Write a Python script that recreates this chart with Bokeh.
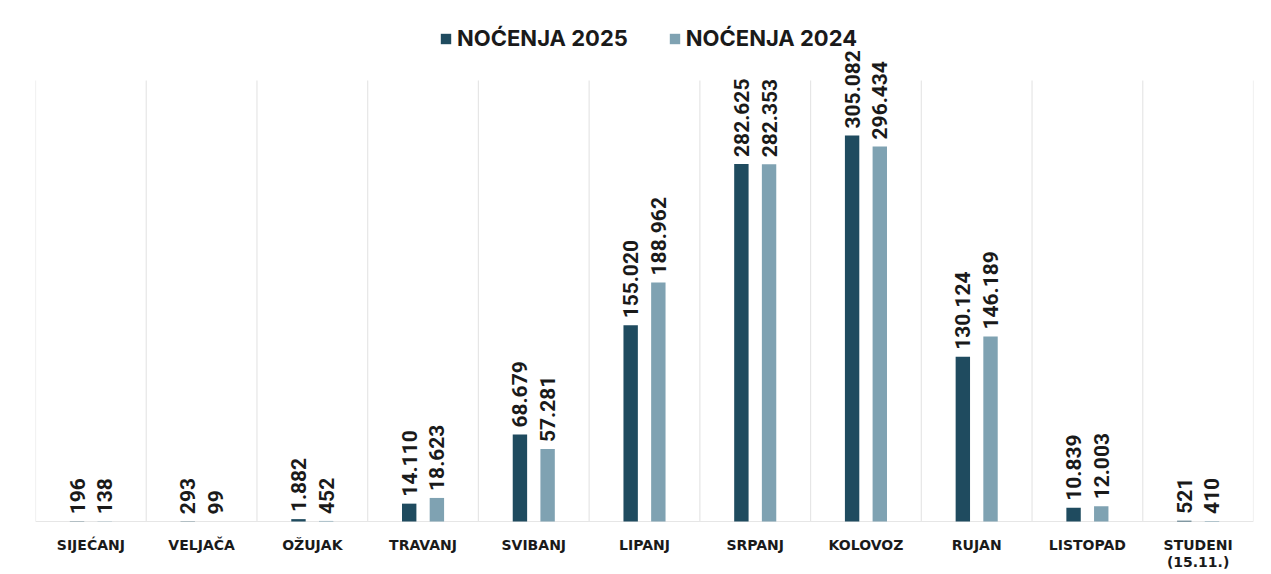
import math
from bokeh.plotting import figure
from bokeh.models import ColumnDataSource, Range1d, Legend, LegendItem
from bokeh.core.properties import value
from bokeh.embed import file_html
from bokeh.resources import INLINE

months = ["SIJEĆANJ", "VELJAČA", "OŽUJAK", "TRAVANJ", "SVIBANJ", "LIPANJ",
          "SRPANJ", "KOLOVOZ", "RUJAN", "LISTOPAD", "STUDENI\n(15.11.)"]
nocenja_2025 = [196, 293, 1882, 14110, 68679, 155020, 282625, 305082, 130124, 10839, 521]
nocenja_2024 = [138, 99, 452, 18623, 57281, 188962, 282353, 296434, 146189, 12003, 410]
labels_2025 = ["196", "293", "1.882", "14.110", "68.679", "155.020", "282.625", "305.082", "130.124", "10.839", "521"]
labels_2024 = ["138", "99", "452", "18.623", "57.281", "188.962", "282.353", "296.434", "146.189", "12.003", "410"]
series_names = ["NOĆENJA 2025", "NOĆENJA 2024"]

DARK = "#1f4b5f"
LIGHT = "#7fa2b2"
OFF = 0.125
BW = 0.13

n = len(months)
xs = list(range(n))

src25 = ColumnDataSource(dict(x=[i - OFF for i in xs], top=nocenja_2025, lab=labels_2025))
src24 = ColumnDataSource(dict(x=[i + OFF for i in xs], top=nocenja_2024, lab=labels_2024))
srcm = ColumnDataSource(dict(x=xs, y=[0] * n, lab=months))

p = figure(width=1266, height=572, output_backend="svg", toolbar_location=None,
           x_range=Range1d(-0.5, n - 0.5), y_range=Range1d(-40310, 411800),
           min_border_left=35, min_border_right=13, min_border_top=0, min_border_bottom=0)
p.outline_line_color = None
p.background_fill_color = "white"
p.border_fill_color = "white"
p.xaxis.visible = False
p.yaxis.visible = False
p.xgrid.visible = False
p.ygrid.visible = False

# separators between months
sep_x = [i - 0.5 for i in range(n + 1)]
p.segment(x0=sep_x, y0=[0] * len(sep_x), x1=sep_x, y1=[348500] * len(sep_x),
          line_color="#e6e6e6", line_width=1.2)
p.segment(x0=[-0.5], y0=[0], x1=[n - 0.5], y1=[0], line_color="#e6e6e6", line_width=1.2)

r25 = p.vbar(x="x", top="top", width=BW, source=src25, fill_color=DARK, line_color=None)
r24 = p.vbar(x="x", top="top", width=BW, source=src24, fill_color=LIGHT, line_color=None)

for src in (src25, src24):
    p.text(x="x", y="top", text="lab", source=src, angle=math.pi / 2,
           text_align="left", text_baseline="middle", y_offset=-7,
           text_font=value("Roboto"), text_font_style="bold",
           text_font_size="21px", text_color="#1a1a1a")

# month labels
p.text(x="x", y="y", text="lab", source=srcm, text_align="center", text_baseline="top",
       y_offset=15, text_font=value("DejaVu Sans"), text_font_style="bold",
       text_font_size="14px", text_color="#1a1a1a", text_line_height=1.1)

legend = Legend(items=[LegendItem(label=series_names[0], renderers=[r25]),
                       LegendItem(label=series_names[1], renderers=[r24])],
                orientation="horizontal", location=(404, 521),
                label_text_font="Inter", label_text_font_style="bold",
                label_text_font_size="22px", label_text_color="#1a1a1a",
                glyph_width=13, glyph_height=13, spacing=40,
                padding=0, margin=0, border_line_color=None,
                background_fill_alpha=0, label_standoff=5)
p.add_layout(legend)

open("out.html", "w").write(file_html(p, INLINE))
